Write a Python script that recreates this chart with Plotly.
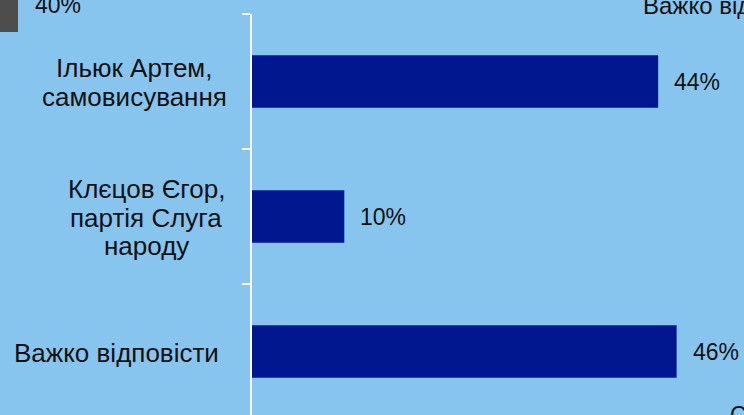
import plotly.graph_objects as go

categories = ["Ільюк Артем,<br>самовисування", "Клєцов Єгор,<br>партія Слуга<br>народу", "Важко відповісти"]
values = [44, 10, 46]
value_labels = ["44%", "10%", "46%"]

BG = "#87C5EF"
BAR = "#00178F"
FONT = "Liberation Sans, Arial, sans-serif"
FS_VAL = 23
FS_CAT = 26
LINE_GAP = 28.5
label_centers_px = [134, 146, 116]

W, H = 744, 415
L, T = 252, 14
plot_w = W - L
plot_h = H - T

def py(p):
    return (H - p) / plot_h

def px(p):
    return (p - L) / plot_w

fig = go.Figure()
fig.add_trace(go.Bar(
    x=values, y=categories, orientation="h",
    marker=dict(color=BAR, line=dict(width=0)),
    width=0.39, hoverinfo="skip",
))

ann = []
# value labels
for c, v, t in zip(categories, values, value_labels):
    ann.append(dict(x=v, y=c, xref="x", yref="y", text=t, showarrow=False,
                    xanchor="left", yanchor="middle", xshift=14,
                    font=dict(family=FONT, size=FS_VAL, color="#111111")))
# category labels (centered multi-line, tighter line spacing)
for c, cxp in zip(categories, label_centers_px):
    lines = c.split("<br>")
    n = len(lines)
    for i, line in enumerate(lines):
        ann.append(dict(x=px(cxp), y=c, xref="paper", yref="y", text=line, showarrow=False,
                        xanchor="center", yanchor="middle",
                        yshift=-(i - (n - 1) / 2) * LINE_GAP - 1,
                        font=dict(family=FONT, size=FS_CAT, color="#111111")))

# fragments of a neighbouring legend visible at the edges
ann.append(dict(x=px(33), y=py(5), xref="paper", yref="paper", text="40%", showarrow=False,
                xanchor="left", yanchor="middle", font=dict(family=FONT, size=FS_VAL, color="#111111")))
ann.append(dict(x=px(641), y=py(6), xref="paper", yref="paper", text="Важко відповісти", showarrow=False,
                xanchor="left", yanchor="middle", font=dict(family=FONT, size=24, color="#111111")))
ann.append(dict(x=px(728), y=py(415), xref="paper", yref="paper", text="С", showarrow=False,
                xanchor="left", yanchor="middle", font=dict(family=FONT, size=FS_VAL, color="#111111")))

fig.update_layout(
    width=W, height=H,
    margin=dict(l=L, r=0, t=T, b=0, pad=0),
    paper_bgcolor=BG, plot_bgcolor=BG,
    showlegend=False,
    annotations=ann,
    shapes=[dict(type="rect", xref="paper", yref="paper",
                 x0=px(0), x1=px(18), y0=py(32), y1=py(-5),
                 fillcolor="#4D4D4D", line=dict(width=0), layer="above")],
    xaxis=dict(range=[0, 53.3], visible=False, fixedrange=True),
    yaxis=dict(range=[2.47, -0.5], showticklabels=False, showgrid=False, zeroline=False,
               showline=True, linecolor="white", linewidth=2,
               ticks="outside", tickson="boundaries", ticklen=8, tickcolor="white", tickwidth=2,
               fixedrange=True),
)

fig.write_html("out.html", config={"displayModeBar": False},
               post_script="document.body.style.margin='0';document.body.style.overflow='hidden';")
